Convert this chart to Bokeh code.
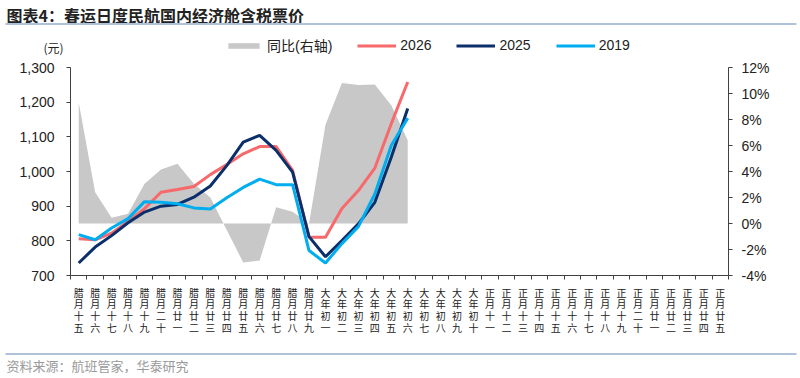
from bokeh.plotting import figure
from bokeh.layouts import column
from bokeh.models import (Range1d, LinearAxis, FixedTicker, NumeralTickFormatter,
                          PrintfTickFormatter, Legend, LegendItem)
from bokeh.core.properties import value
from bokeh.embed import file_html
from bokeh.resources import INLINE

# ---------------- data ----------------
categories = (
    ["腊月十五", "腊月十六", "腊月十七", "腊月十八", "腊月十九", "腊月二十",
     "腊月廿一", "腊月廿二", "腊月廿三", "腊月廿四", "腊月廿五", "腊月廿六",
     "腊月廿七", "腊月廿八", "腊月廿九"]
    + ["大年初一", "大年初二", "大年初三", "大年初四", "大年初五",
       "大年初六", "大年初七", "大年初八", "大年初九", "大年初十"]
    + ["正月十一", "正月十二", "正月十三", "正月十四", "正月十五",
       "正月十六", "正月十七", "正月十八", "正月十九", "正月二十",
       "正月廿一", "正月廿二", "正月廿三", "正月廿四", "正月廿五"]
)
fare_2026 = [806, 803, 822, 856, 893, 940, 948, 957, 991, 1020, 1051, 1072, 1072,
             1003, 810, 810, 893, 945, 1010, 1138, 1258]
fare_2025 = [736, 782, 815, 852, 883, 900, 905, 926, 958, 1017, 1085, 1104, 1061,
             998, 812, 754, 801, 849, 911, 1041, 1182]
fare_2019 = [818, 803, 837, 864, 913, 911, 907, 895, 892, 924, 954, 978, 962,
             962, 772, 736, 792, 841, 935, 1075, 1154]
yoy_pct = [9.3, 2.4, 0.45, 0.75, 3.05, 4.15, 4.6, 3.05, 2.0, -0.5, -3.0, -2.85,
           1.25, 0.9, 0.0, 7.6, 10.8, 10.65, 10.7, 9.1, 6.4]
left_ticks = [700, 800, 900, 1000, 1100, 1200, 1300]
right_ticks = [-4, -2, 0, 2, 4, 6, 8, 10, 12]
series_names = ["同比(右轴)", "2026", "2025", "2019"]

title_text = "图表4：春运日度民航国内经济舱含税票价"
unit_text = "(元)"
source_text = "资料来源：航班管家，华泰研究"

C_GREY = "#C8C8C8"
C_RED = "#F8696B"
C_NAVY = "#0B2F6B"
C_BLUE = "#00AEEF"
C_RULE = "#AFC2D9"

CJK = "'Noto Sans CJK SC'"
NUM = "'Liberation Sans', 'Noto Sans CJK SC'"

n = len(categories)
xs_all = list(range(n))
xs = xs_all[:len(fare_2026)]


def bare(height, y_top):
    f = figure(width=800, height=height, output_backend="svg", toolbar_location=None,
               x_range=Range1d(0, 800), y_range=Range1d(y_top + height, y_top),
               x_axis_location=None, y_axis_location=None,
               min_border=0, min_border_left=0, min_border_right=0,
               min_border_top=0, min_border_bottom=0)
    f.outline_line_color = None
    f.grid.visible = False
    f.frame_align = False
    return f


# ---------------- header (title, rule, unit, legend) ----------------
head = bare(57, 0)
head.text(x=[6], y=[14], text=[title_text], text_font=value("Noto Sans CJK SC"),
          text_font_size="16px", text_font_style="bold", text_color="#222222",
          text_baseline="middle", text_align="left")
head.segment(x0=[5], y0=[23.5], x1=[796], y1=[23.5], line_color=C_RULE, line_width=2)
head.text(x=[53], y=[47], text=[unit_text], text_font=value("Noto Sans CJK SC"),
          text_font_size="12px", text_color="#222222",
          text_baseline="middle", text_align="center")

# legend keys (kept outside the visible area; only their legend swatches show)
g_area = head.varea(x=[-50, -40], y1=[0, 0], y2=[1, 1], fill_color=C_GREY)
g26 = head.line(x=[-50, -40], y=[0, 0], line_color=C_RED, line_width=3)
g25 = head.line(x=[-50, -40], y=[0, 0], line_color=C_NAVY, line_width=3)
g19 = head.line(x=[-50, -40], y=[0, 0], line_color=C_BLUE, line_width=3)
legend = Legend(items=[LegendItem(label=series_names[0], renderers=[g_area]),
                       LegendItem(label=series_names[1], renderers=[g26]),
                       LegendItem(label=series_names[2], renderers=[g25]),
                       LegendItem(label=series_names[3], renderers=[g19])],
                orientation="horizontal", location=(224, 2),
                glyph_width=39, glyph_height=7, label_height=16,
                label_standoff=4, spacing=25, padding=0, margin=0,
                border_line_color=None, background_fill_alpha=0,
                label_text_font=NUM, label_text_font_size="14px",
                label_text_color="#222222")
head.add_layout(legend, "center")

# ---------------- main chart ----------------
p = figure(width=800, height=288, output_backend="svg", toolbar_location=None,
           x_range=Range1d(-0.5, n - 0.5), y_range=Range1d(700, 1300),
           min_border_left=70, min_border_right=72, min_border_top=10,
           min_border_bottom=70)
p.outline_line_color = None
p.grid.visible = False
p.frame_align = False
p.extra_y_ranges = {"pct": Range1d(-4, 12)}

area = p.varea(x=xs, y1=[0] * len(xs), y2=yoy_pct, y_range_name="pct",
               fill_color=C_GREY)
l26 = p.line(xs, fare_2026, line_color=C_RED, line_width=3)
l25 = p.line(xs, fare_2025, line_color=C_NAVY, line_width=3)
l19 = p.line(xs, fare_2019, line_color=C_BLUE, line_width=3)

xa = p.xaxis[0]
xa.ticker = FixedTicker(ticks=xs_all, minor_ticks=[i - 0.5 for i in range(n + 1)])
xa.major_label_overrides = {i: "\n".join(c) for i, c in enumerate(categories)}
xa.major_tick_out = 0
xa.major_tick_in = 0
xa.minor_tick_out = 4
xa.minor_tick_in = 0
xa.minor_tick_line_color = "#404040"
xa.axis_line_color = "#404040"
xa.major_label_text_font = CJK
xa.major_label_text_font_size = "10px"
xa.major_label_text_line_height = 0.78
xa.major_label_text_color = "#222222"
xa.major_label_standoff = 5

ya = p.yaxis[0]
ya.ticker = FixedTicker(ticks=left_ticks)
ya.formatter = NumeralTickFormatter(format="0,0")
ya.major_tick_out = 4
ya.major_tick_in = 0
ya.minor_tick_line_color = None
ya.axis_line_color = "#404040"
ya.major_tick_line_color = "#404040"
ya.major_label_text_font = NUM
ya.major_label_text_font_size = "14px"
ya.major_label_text_color = "#222222"
ya.major_label_standoff = 12

ra = LinearAxis(y_range_name="pct", ticker=FixedTicker(ticks=right_ticks),
                formatter=PrintfTickFormatter(format="%d%%"))
ra.major_tick_out = 4
ra.major_tick_in = 0
ra.minor_tick_line_color = None
ra.axis_line_color = "#404040"
ra.major_tick_line_color = "#404040"
ra.major_label_text_font = NUM
ra.major_label_text_font_size = "14px"
ra.major_label_text_color = "#222222"
ra.major_label_standoff = 9
p.add_layout(ra, "right")

# ---------------- footer (rule, source) ----------------
foot = bare(33, 345)
foot.segment(x0=[5], y0=[353.5], x1=[796], y1=[353.5], line_color=C_RULE, line_width=2)
foot.text(x=[6], y=[365], text=[source_text], text_font=value("Noto Sans CJK SC"),
          text_font_size="13px", text_color="#9A9A9A",
          text_baseline="middle", text_align="left")

layout = column(head, p, foot, spacing=0)
open("out.html", "w").write(file_html(layout, INLINE))
